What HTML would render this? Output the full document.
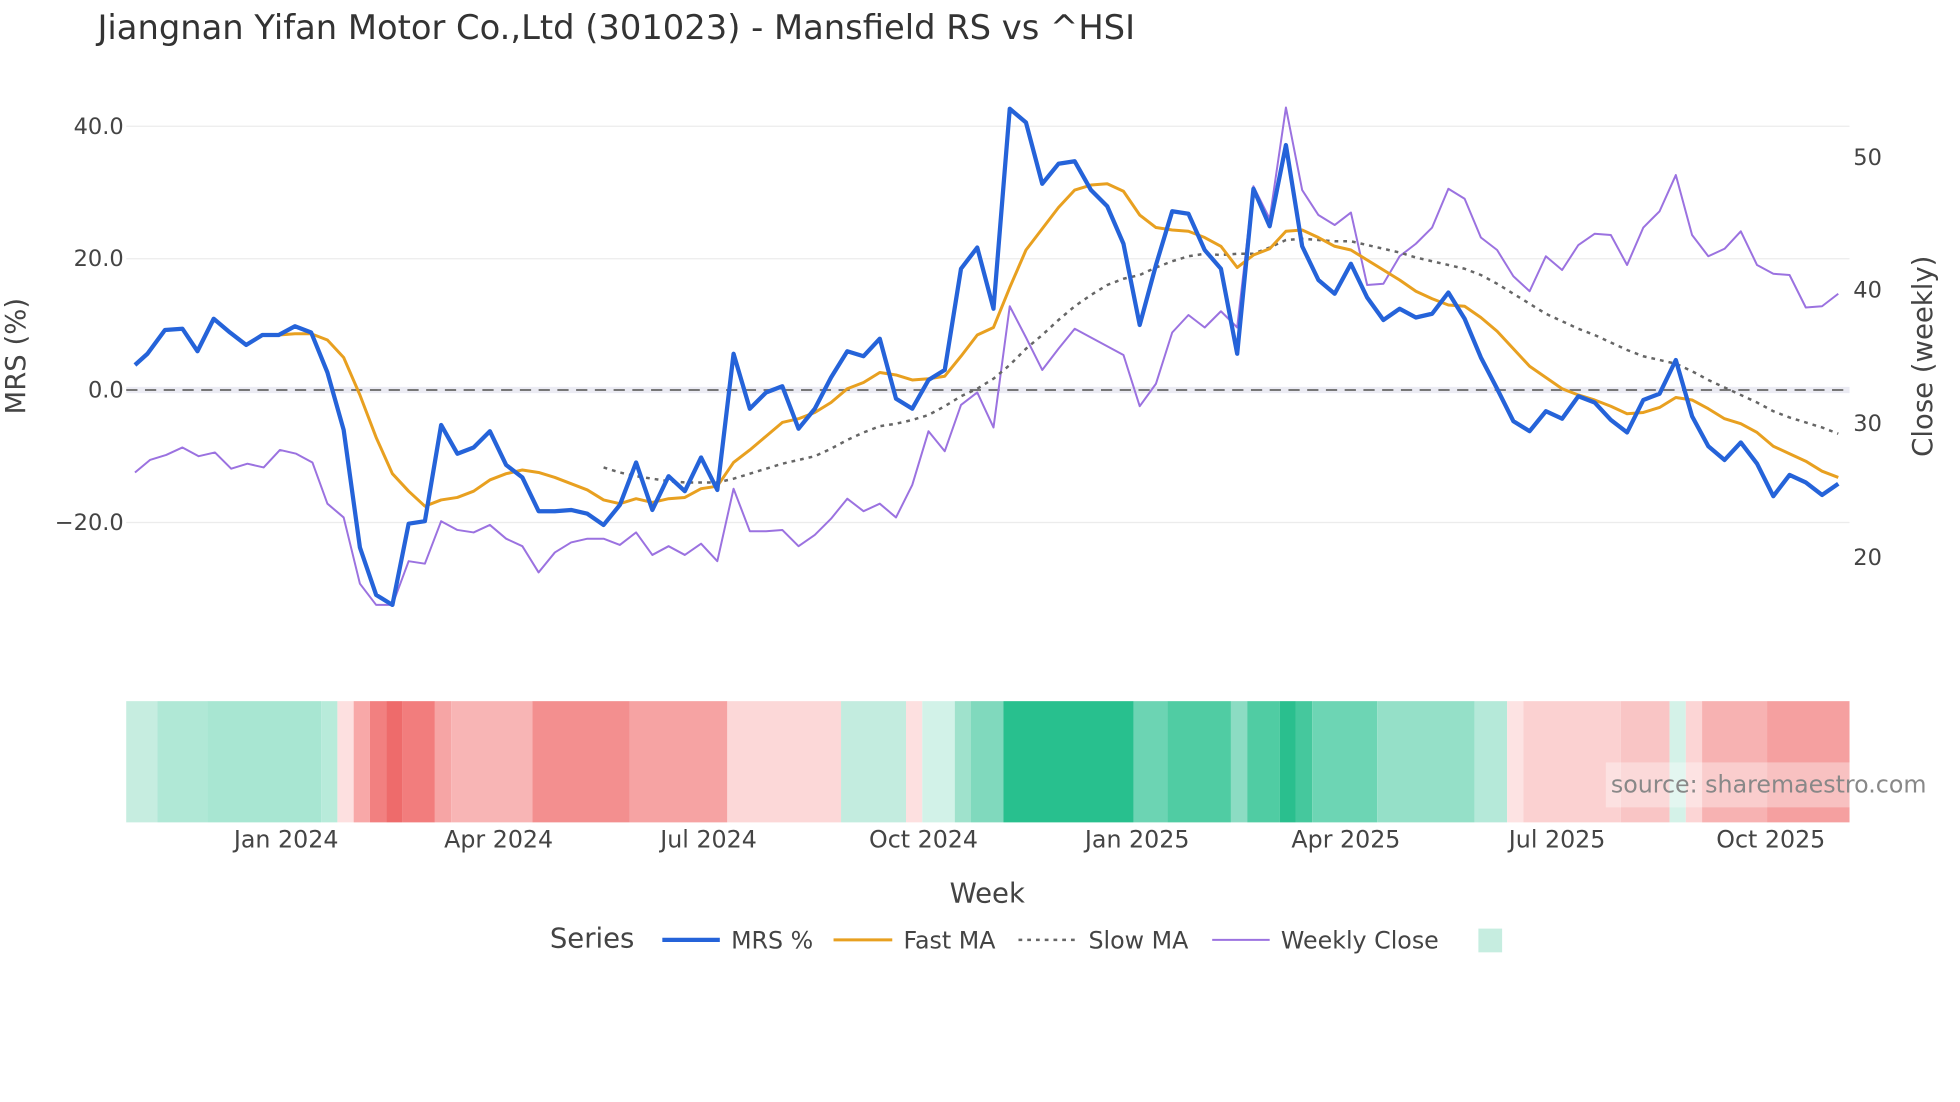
<!DOCTYPE html>
<html><head><meta charset="utf-8"><style>html,body{margin:0;padding:0;background:#fff}svg{display:block}</style></head>
<body>
<svg width="1960" height="1102" viewBox="0 0 1568.4 881.7" xmlns="http://www.w3.org/2000/svg" font-family="'DejaVu Sans', 'Liberation Sans', sans-serif">
<rect width="1570" height="885" fill="#fff"/>
<text x="78" y="31" font-size="27" fill="#333">Jiangnan Yifan Motor Co.,Ltd (301023) - Mansfield RS vs ^HSI</text>
<g stroke="#ececec" stroke-width="1">
<line x1="101" y1="101" x2="1480" y2="101"/><line x1="101" y1="207" x2="1480" y2="207"/><line x1="101" y1="418" x2="1480" y2="418"/>
</g>
<line x1="101" y1="312" x2="1480" y2="312" stroke="#ebebf3" stroke-width="5"/>
<line x1="101" y1="312" x2="1480" y2="312" stroke="#777" stroke-width="1.6" stroke-dasharray="9,6"/>
<g font-size="18" fill="#444" text-anchor="end">
<text x="99" y="107">40.0</text><text x="99" y="213">20.0</text><text x="99" y="318">0.0</text><text x="99" y="424">−20.0</text>
</g>
<g font-size="18" fill="#444">
<text x="1483" y="132">50</text><text x="1483" y="238">40</text><text x="1483" y="345">30</text><text x="1483" y="452">20</text>
</g>
<text transform="translate(20,285) rotate(-90)" font-size="22" fill="#444" text-anchor="middle">MRS (%)</text>
<text transform="translate(1546,285) rotate(-90)" font-size="22" fill="#444" text-anchor="middle">Close (weekly)</text>
<g stroke-linejoin="round" fill="none">
<polyline stroke="#9b72e0" stroke-width="1.6" points="108,378 120,368 133,364 146,358 159,365 172,362 185,375 198,371 211,374 224,360 237,363 250,370 262,403 275,414 288,467 301,484 314,484 327,449 340,451 353,417 366,424 379,426 392,420 405,431 418,437 431,458 444,442 457,434 470,431 483,431 496,436 509,426 522,444 535,437 548,444 561,435 574,449 587,391 600,425 613,425 626,424 639,437 652,428 665,415 678,399 691,409 704,403 717,414 730,388 743,345 756,361 769,324 782,314 795,342 808,245 821,270 834,296 847,279 860,263 873,270 886,277 899,284 912,325 925,307 938,266 951,252 964,262 977,249 990,262 1003,149 1016,175 1029,86 1042,152 1055,172 1068,180 1081,170 1094,228 1107,227 1120,205 1133,195 1146,182 1159,151 1172,159 1185,190 1198,200 1211,221 1224,233 1237,205 1250,216 1263,196 1276,187 1289,188 1302,212 1315,182 1328,169 1341,140 1354,188 1367,205 1380,199 1393,185 1406,212 1419,219 1432,220 1445,246 1458,245 1471,235"/>
<polyline stroke="#666" stroke-width="2" stroke-dasharray="3,4" points="483,374 496,378 509,381 522,383 535,385 548,386 561,386 574,386 587,383 600,379 613,375 626,371 639,368 652,365 665,359 678,352 691,346 704,341 717,339 730,336 743,332 756,325 769,317 782,311 795,303 808,292 821,279 834,268 847,256 860,245 873,236 886,228 899,223 912,220 925,214 938,209 951,205 964,203 977,204 990,203 1003,203 1016,198 1029,192 1042,191 1055,192 1068,193 1081,193 1094,196 1107,199 1120,202 1133,206 1146,209 1159,212 1172,215 1185,220 1198,227 1211,235 1224,243 1237,251 1250,257 1263,263 1276,268 1289,274 1302,280 1315,285 1328,288 1341,291 1354,297 1367,304 1380,310 1393,316 1406,322 1419,329 1432,334 1445,338 1458,342 1471,347"/>
<polyline stroke="#e8a020" stroke-width="2.4" points="223,268 236,267 249,267 262,272 275,286 288,316 301,350 314,379 327,393 340,405 353,400 366,398 379,393 392,384 405,379 418,376 431,378 444,382 457,387 470,392 483,400 496,403 509,399 522,402 535,399 548,398 561,391 574,389 587,370 600,360 613,349 626,338 639,335 652,330 665,322 678,311 691,306 704,298 717,300 730,304 743,303 756,301 769,285 782,268 795,262 808,230 821,200 834,183 847,166 860,152 873,148 886,147 899,153 912,172 925,182 938,184 951,185 964,190 977,197 990,214 1003,204 1016,199 1029,185 1042,184 1055,190 1068,197 1081,200 1094,208 1107,216 1120,224 1133,233 1146,239 1159,244 1172,245 1185,254 1198,265 1211,279 1224,293 1237,302 1250,311 1263,316 1276,320 1289,325 1302,331 1315,330 1328,326 1341,318 1354,320 1367,327 1380,335 1393,339 1406,346 1419,357 1432,363 1445,369 1458,377 1471,382"/>
<polyline stroke="#2563d9" stroke-width="3.4" points="108,292 118,283 132,264 146,263 158,281 171,255 184,266 197,276 210,268 223,268 236,261 249,266 262,298 275,344 288,438 301,476 314,484 327,419 340,417 353,340 366,363 379,358 392,345 405,372 418,382 431,409 444,409 457,408 470,411 483,420 496,404 509,370 522,408 535,381 548,393 561,366 574,392 587,283 600,327 613,314 626,309 639,343 652,327 665,302 678,281 691,285 704,271 717,319 730,327 743,304 756,296 769,215 782,198 795,247 808,87 821,98 834,147 847,131 860,129 873,152 886,165 899,195 912,260 925,212 938,169 951,171 964,200 977,215 990,283 1003,151 1016,181 1029,116 1042,197 1055,224 1068,235 1081,211 1094,238 1107,256 1120,247 1133,254 1146,251 1159,234 1172,255 1185,286 1198,311 1211,337 1224,345 1237,329 1250,335 1263,317 1276,322 1289,336 1302,346 1315,320 1328,315 1341,288 1354,333 1367,357 1380,368 1393,354 1406,371 1419,397 1432,380 1445,386 1458,396 1471,387"/>
</g>
<g>
<rect x="101" y="561" width="25" height="97" fill="#c6ede0"/>
<rect x="126" y="561" width="40" height="97" fill="#b0e8d6"/>
<rect x="166" y="561" width="91" height="97" fill="#a8e6d2"/>
<rect x="257" y="561" width="13" height="97" fill="#b8ebda"/>
<rect x="270" y="561" width="13" height="97" fill="#fde0e0"/>
<rect x="283" y="561" width="13" height="97" fill="#f8a8a8"/>
<rect x="296" y="561" width="13" height="97" fill="#f28080"/>
<rect x="309" y="561" width="13" height="97" fill="#ee6b6b"/>
<rect x="322" y="561" width="26" height="97" fill="#f27d7d"/>
<rect x="348" y="561" width="13" height="97" fill="#f6a5a5"/>
<rect x="361" y="561" width="65" height="97" fill="#f8b5b5"/>
<rect x="426" y="561" width="78" height="97" fill="#f38f8f"/>
<rect x="504" y="561" width="78" height="97" fill="#f6a3a3"/>
<rect x="582" y="561" width="91" height="97" fill="#fcd8d8"/>
<rect x="673" y="561" width="52" height="97" fill="#c3ecdf"/>
<rect x="725" y="561" width="13" height="97" fill="#fde0e0"/>
<rect x="738" y="561" width="26" height="97" fill="#d2f2e8"/>
<rect x="764" y="561" width="13" height="97" fill="#9fe2cc"/>
<rect x="777" y="561" width="26" height="97" fill="#80d9bd"/>
<rect x="803" y="561" width="104" height="97" fill="#28c08e"/>
<rect x="907" y="561" width="27" height="97" fill="#6cd4b3"/>
<rect x="934" y="561" width="51" height="97" fill="#50cca3"/>
<rect x="985" y="561" width="13" height="97" fill="#8cdcc3"/>
<rect x="998" y="561" width="26" height="97" fill="#50cca3"/>
<rect x="1024" y="561" width="13" height="97" fill="#2abf8e"/>
<rect x="1037" y="561" width="13" height="97" fill="#45c89d"/>
<rect x="1050" y="561" width="52" height="97" fill="#6dd5b4"/>
<rect x="1102" y="561" width="78" height="97" fill="#95e0c8"/>
<rect x="1180" y="561" width="26" height="97" fill="#b5e9d9"/>
<rect x="1206" y="561" width="13" height="97" fill="#fde3e3"/>
<rect x="1219" y="561" width="78" height="97" fill="#fbd1d1"/>
<rect x="1297" y="561" width="39" height="97" fill="#f9c5c5"/>
<rect x="1336" y="561" width="13" height="97" fill="#d4f2e8"/>
<rect x="1349" y="561" width="13" height="97" fill="#fcd5d5"/>
<rect x="1362" y="561" width="52" height="97" fill="#f7b2b2"/>
<rect x="1414" y="561" width="66" height="97" fill="#f5a0a0"/>
</g>
<rect x="1285" y="610" width="195" height="36" fill="#fff" opacity="0.35"/>
<text x="1289" y="634" font-size="19" fill="#888">source: sharemaestro.com</text>
<g font-size="19" fill="#444" text-anchor="middle">
<text x="229" y="678">Jan 2024</text><text x="399" y="678">Apr 2024</text><text x="567" y="678">Jul 2024</text><text x="739" y="678">Oct 2024</text>
<text x="910" y="678">Jan 2025</text><text x="1077" y="678">Apr 2025</text><text x="1246" y="678">Jul 2025</text><text x="1417" y="678">Oct 2025</text>
</g>
<text x="790" y="722" font-size="22" fill="#444" text-anchor="middle">Week</text>
<text x="440" y="758" font-size="22" fill="#444">Series</text>
<line x1="530" y1="752" x2="576" y2="752" stroke="#2563d9" stroke-width="3.4"/>
<text x="585" y="759" font-size="19" fill="#444">MRS %</text>
<line x1="667" y1="752" x2="714" y2="752" stroke="#e8a020" stroke-width="2.4"/>
<text x="723" y="759" font-size="19" fill="#444">Fast MA</text>
<line x1="815" y1="752" x2="860" y2="752" stroke="#666" stroke-width="2" stroke-dasharray="3,4"/>
<text x="871" y="759" font-size="19" fill="#444">Slow MA</text>
<line x1="970" y1="752" x2="1016" y2="752" stroke="#9b72e0" stroke-width="1.6"/>
<text x="1025" y="759" font-size="19" fill="#444">Weekly Close</text>
<rect x="1183" y="743" width="19" height="19" fill="#c6ede0"/>
</svg>
</body></html>
